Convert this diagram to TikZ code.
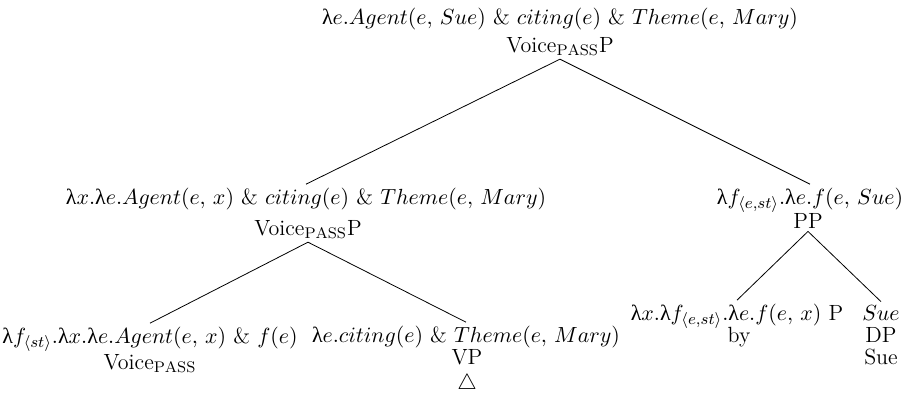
\documentclass[tikz,border=0pt]{standalone}
\usepackage{fontspec}
\newfontfamily\grk{Liberation Serif}
\newcommand\lam{{\grk λ}}
\newcommand\pass{$_{\mathrm{PASS}}$}
\begin{document}
\begin{tikzpicture}[x=0.5pt,y=-0.5pt,
  lbl/.style={inner sep=1.5pt, anchor=base, font=\fontsize{11}{13}\selectfont},
  branch/.style={line width=0.4pt}]
\useasboundingbox (0,0) rectangle (907,397);
% root
\node[lbl] (rootsem) at (560,24)
  {\lam$e.Agent(e,$ $Sue)$ \& $citing(e)$ \& $Theme(e,$ $Mary)$};
\node[lbl] (root) at (560,52) {Voice\pass P};
% second level
\node[lbl] (vppsem) at (306,204)
  {\lam$x.$\lam$e.Agent(e,$ $x)$ \& $citing(e)$ \& $Theme(e,$ $Mary)$};
\node[lbl] (vpp) at (308,235) {Voice\pass P};
\node[lbl] (ppsem) at (810,204)
  {\lam$f_{\langle e,st\rangle}.$\lam$e.f(e,$ $Sue)$};
\node[lbl] (pp) at (808,228) {PP};
% third level
\node[lbl] (voicesem) at (150,343)
  {\lam$f_{\langle st\rangle}.$\lam$x.$\lam$e.Agent(e,$ $x)$ \& $f(e)$};
\node[lbl] (voice) at (150,369) {Voice\pass};
\node[lbl] (vpsem) at (466,342)
  {\lam$e.citing(e)$ \& $Theme(e,$ $Mary)$};
\node[lbl] (vp) at (467,364) {VP};
\node[lbl] (tri) at (467,389) {$\triangle$};
\node[lbl] (psem) at (737,320)
  {\lam$x.$\lam$f_{\langle e,st\rangle}.$\lam$e.f(e,$ $x)$ P};
\node[lbl] (by) at (739,342) {by};
\node[lbl] (dpsem) at (881,320) {$Sue$};
\node[lbl] (dp) at (881,342) {DP};
\node[lbl] (sue) at (881,364) {Sue};
% branches
\draw[branch] (root.south) -- (vppsem.north);
\draw[branch] (root.south) -- (ppsem.north);
\draw[branch] (vpp.south) -- (voicesem.north);
\draw[branch] (vpp.south) -- (vpsem.north);
\draw[branch] (pp.south) -- (psem.north);
\draw[branch] (pp.south) -- (dpsem.north);
\end{tikzpicture}
\end{document}
